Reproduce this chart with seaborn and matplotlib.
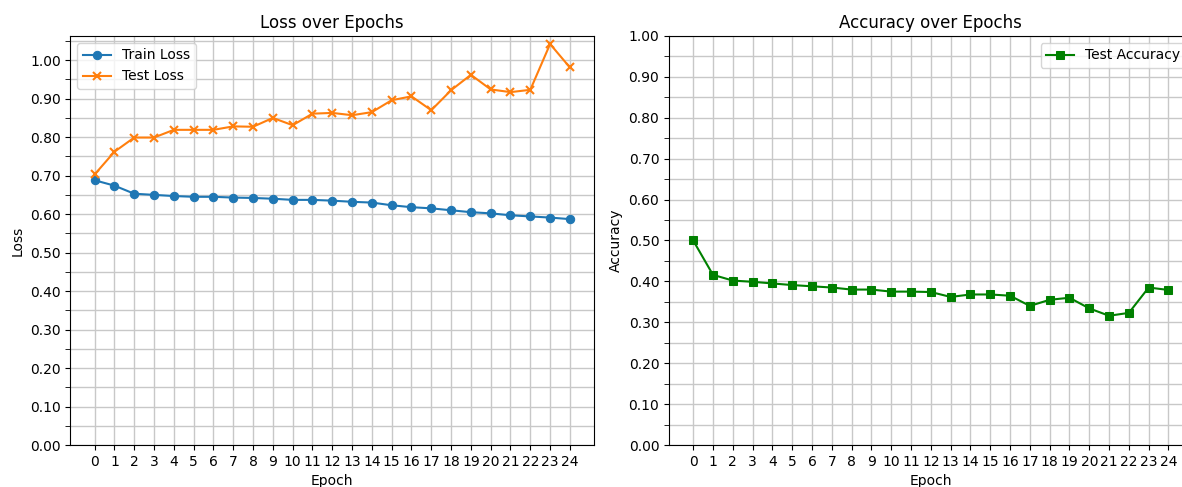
import numpy as np
import pandas as pd
import matplotlib
matplotlib.use("Agg")
import matplotlib.pyplot as plt
import seaborn as sns
from matplotlib.ticker import MultipleLocator, FormatStrFormatter

epochs = list(range(25))
train_loss = [0.688, 0.674, 0.653, 0.650, 0.647, 0.645, 0.645, 0.643, 0.642, 0.640,
              0.637, 0.637, 0.635, 0.632, 0.630, 0.623, 0.618, 0.615, 0.610, 0.605,
              0.602, 0.597, 0.594, 0.591, 0.587]
test_loss = [0.703, 0.762, 0.799, 0.799, 0.819, 0.819, 0.819, 0.828, 0.827, 0.850,
             0.831, 0.861, 0.863, 0.857, 0.865, 0.896, 0.906, 0.870, 0.922, 0.962,
             0.924, 0.917, 0.923, 1.042, 0.981]
test_acc = [0.500, 0.416, 0.402, 0.399, 0.395, 0.391, 0.388, 0.385, 0.380, 0.380,
            0.375, 0.375, 0.374, 0.362, 0.368, 0.368, 0.365, 0.340, 0.355, 0.360,
            0.334, 0.316, 0.323, 0.385, 0.379]

df = pd.DataFrame({"Epoch": epochs, "Train Loss": train_loss,
                   "Test Loss": test_loss, "Test Accuracy": test_acc})

fig = plt.figure(figsize=(11.82, 4.87), dpi=100)
ax1 = fig.add_axes([0.0596, 0.0862, 0.443, 0.840])
ax2 = fig.add_axes([0.566, 0.0862, 0.443, 0.840])

blue, orange, green = "#1f77b4", "#ff7f0e", "#008000"

sns.lineplot(data=df, x="Epoch", y="Train Loss", ax=ax1, color=blue, marker="o",
             markersize=6, markeredgecolor=blue, label="Train Loss", linewidth=1.5)
sns.lineplot(data=df, x="Epoch", y="Test Loss", ax=ax1, color=orange, marker="x",
             markersize=6, markeredgecolor=orange, markeredgewidth=1.5,
             label="Test Loss", linewidth=1.5)
sns.lineplot(data=df, x="Epoch", y="Test Accuracy", ax=ax2, color=green, marker="s",
             markersize=6, markeredgecolor=green, label="Test Accuracy", linewidth=1.5)

for ax in (ax1, ax2):
    ax.set_xticks(epochs)
    ax.set_xlim(-1.22, 25.22)
    ax.yaxis.set_major_locator(MultipleLocator(0.1))
    ax.yaxis.set_minor_locator(MultipleLocator(0.05))
    ax.yaxis.set_major_formatter(FormatStrFormatter("%.2f"))
    ax.tick_params(axis="y", which="minor", length=3.5)
    ax.tick_params(labelsize=10)
    ax.grid(True, which="both", color="#c8c8c8", linewidth=1.0)
    ax.set_axisbelow(True)
    ax.set_xlabel("Epoch", fontsize=10)

ax1.set_ylim(bottom=0)
ax1.set_ylim(0, 1.063)
ax2.set_ylim(0, 1.0)
ax1.set_ylabel("Loss", fontsize=10)
ax2.set_ylabel("Accuracy", fontsize=10)
ax1.set_title("Loss over Epochs", fontsize=12)
ax2.set_title("Accuracy over Epochs", fontsize=12)
ax1.legend(loc="upper left", fontsize=10)
ax2.legend(loc="upper right", fontsize=10)

fig.savefig("out.png", dpi=100)
